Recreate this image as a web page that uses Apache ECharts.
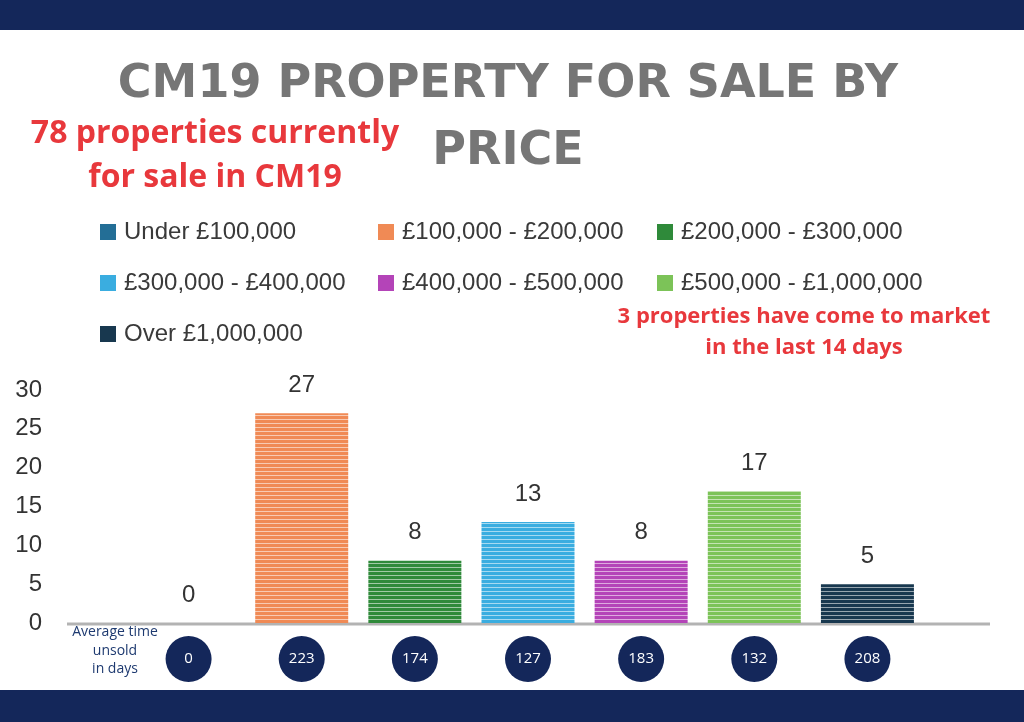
<!DOCTYPE html>
<html lang="en">
<head>
<meta charset="UTF-8" />
<script src="https://cdn.jsdelivr.net/npm/echarts@6/dist/echarts.min.js"></script>
<style>
  html, body { margin: 0; padding: 0; background: #fff; }
  #main { width: 1024px; height: 722px; }
</style>
</head>
<body>
<div id="main"></div>
<script>
// data
var categories = ['Under £100,000', '£100,000 - £200,000', '£200,000 - £300,000',
  '£300,000 - £400,000', '£400,000 - £500,000', '£500,000 - £1,000,000', 'Over £1,000,000'];
var counts = [0, 27, 8, 13, 8, 17, 5];
var daysUnsold = [0, 223, 174, 127, 183, 132, 208];
var barColors = ['#236e96', '#f08a55', '#2f8a3a', '#3aade0', '#b444b8', '#7cc358', '#18384f'];
var yTicks = { min: 0, max: 30, interval: 5 };

// striped fill, like the reference bars
function stripes(color) {
  var c = document.createElement('canvas');
  c.width = 4; c.height = 4;
  var ctx = c.getContext('2d');
  ctx.fillStyle = color;
  ctx.fillRect(0, 0, 4, 4);
  ctx.fillStyle = 'rgba(255,255,255,0.55)';
  ctx.fillRect(0, 3, 4, 1);
  return { image: c, repeat: 'repeat' };
}

var series = categories.map(function (name, i) {
  return {
    name: name,
    type: 'bar',
    stack: 'all',
    barWidth: 93,
    itemStyle: { color: stripes(barColors[i]) },
    label: {
      show: true, position: 'top', distance: 16,
      fontFamily: 'Liberation Sans', fontSize: 24, color: '#333'
    },
    data: counts.map(function (v, j) { return j === i ? v : '-'; })
  };
});

function legendCol(left, idx) {
  return {
    orient: 'vertical', left: left, top: 220, padding: 0,
    itemWidth: 16, itemHeight: 16, itemGap: 27, icon: 'rect',
    textStyle: { fontFamily: 'Liberation Sans', fontSize: 24, color: '#3a3a3a', lineHeight: 24, padding: [0, 0, 0, 3] },
    data: idx.map(function (i) { return { name: categories[i], itemStyle: { color: barColors[i] } }; }),
    selectedMode: false
  };
}

var navy = '#14275a';
var chart = echarts.init(document.getElementById('main'));
chart.setOption({
  animation: false,
  grid: { left: 132, right: 100, top: 390, bottom: 99 },
  legend: [legendCol(100, [0, 3, 6]), legendCol(378, [1, 4]), legendCol(657, [2, 5])],
  xAxis: {
    type: 'category',
    data: categories,
    axisLine: { show: false },
    axisTick: { show: false },
    axisLabel: {
      margin: 13,
      formatter: function (v, i) { return '{c|' + daysUnsold[i] + '}'; },
      rich: {
        c: {
          backgroundColor: navy, color: '#fff', width: 46, height: 46,
          lineHeight: 46, borderRadius: 23, align: 'center',
          fontFamily: 'Open Sans', fontSize: 15
        }
      }
    }
  },
  yAxis: {
    type: 'value', min: yTicks.min, max: yTicks.max, interval: yTicks.interval,
    splitLine: { show: false },
    axisLabel: { margin: 90, fontFamily: 'Liberation Sans', fontSize: 24, color: '#333' }
  },
  graphic: [
    { type: 'rect', shape: { x: 0, y: 0, width: 1024, height: 30 }, style: { fill: navy } },
    { type: 'rect', shape: { x: 0, y: 690, width: 1024, height: 32 }, style: { fill: navy } },
    { type: 'line', z: 1, shape: { x1: 67, y1: 624, x2: 990, y2: 624 }, style: { stroke: '#b3b3b3', lineWidth: 3 } },
    { type: 'text', x: 508, y: 85, style: { text: 'CM19 PROPERTY FOR SALE BY', fill: '#767676',
      font: 'bold 46px "DejaVu Sans"', textAlign: 'center', textVerticalAlign: 'middle' } },
    { type: 'text', x: 508, y: 152, style: { text: 'PRICE', fill: '#767676',
      font: 'bold 46px "DejaVu Sans"', textAlign: 'center', textVerticalAlign: 'middle' } },
    { type: 'text', x: 215, y: 134, style: { text: '78 properties currently', fill: '#e8383c',
      font: 'bold 32px "Open Sans"', textAlign: 'center', textVerticalAlign: 'middle' } },
    { type: 'text', x: 215, y: 178, style: { text: 'for sale in CM19', fill: '#e8383c',
      font: 'bold 32px "Open Sans"', textAlign: 'center', textVerticalAlign: 'middle' } },
    { type: 'text', x: 804, y: 317, style: { text: '3 properties have come to market', fill: '#e8383c',
      font: 'bold 22px "Open Sans"', textAlign: 'center', textVerticalAlign: 'middle' } },
    { type: 'text', x: 804, y: 348, style: { text: 'in the last 14 days', fill: '#e8383c',
      font: 'bold 22px "Open Sans"', textAlign: 'center', textVerticalAlign: 'middle' } },
    { type: 'text', x: 115, y: 632, style: { text: 'Average time', fill: '#1e3a70',
      font: '14px "Open Sans"', textAlign: 'center', textVerticalAlign: 'middle' } },
    { type: 'text', x: 115, y: 651, style: { text: 'unsold', fill: '#1e3a70',
      font: '14px "Open Sans"', textAlign: 'center', textVerticalAlign: 'middle' } },
    { type: 'text', x: 115, y: 669, style: { text: 'in days', fill: '#1e3a70',
      font: '14px "Open Sans"', textAlign: 'center', textVerticalAlign: 'middle' } }
  ],
  series: series
});
</script>
</body>
</html>
